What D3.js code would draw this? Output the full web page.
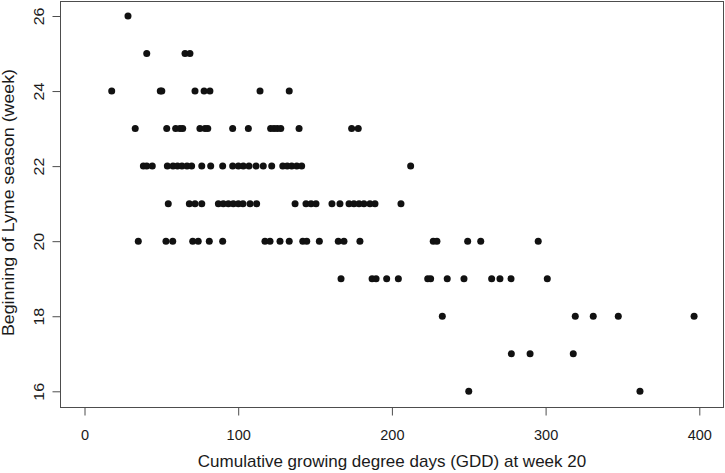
<!DOCTYPE html>
<html>
<head>
<meta charset="utf-8">
<script src="https://cdn.jsdelivr.net/npm/d3@7"></script>
<style>
  body { margin: 0; background: #fff; }
  svg { display: block; }
  text { font-family: "Liberation Sans", Arial, Helvetica, sans-serif; fill: #1a1a1a; }
</style>
</head>
<body>
<svg id="chart" width="725" height="473"></svg>
<script>
// ---- data ----
const xTicks = [0, 100, 200, 300, 400];
const yTicks = [16, 18, 20, 22, 24, 26];
const xLabel = "Cumulative growing degree days (GDD) at week 20";
const yLabel = "Beginning of Lyme season (week)";

const gddWeek26 = [28.3];
const gddWeek25 = [40.5, 65.4, 68.6];
const gddWeek24 = [17.7, 49.3, 50.3, 71.9, 77.8, 81.6, 114.2, 133.2];
const gddWeek23 = [33.0, 53.5, 59.3, 62.1, 63.9, 75.1, 78.4, 80.2, 96.4, 106.6, 121.1, 123.3, 125.4, 127.7, 139.6, 173.8, 178.1];
const gddWeek22 = [38.3, 40.5, 44.1, 53.9, 57.6, 60.5, 63.4, 66.7, 69.7, 76.3, 82.1, 89.9, 96.4, 100.1, 103.3, 107.0, 111.6, 116.3, 121.8, 129.0, 131.9, 134.8, 138.1, 141.3, 212.2];
const gddWeek21 = [54.5, 68.2, 71.9, 76.3, 87.1, 90.3, 93.6, 96.8, 100.1, 103.1, 107.7, 112.0, 137.0, 144.1, 147.4, 150.6, 161.0, 166.2, 172.1, 175.3, 178.6, 181.8, 185.7, 189.0, 205.9];
const gddWeek20 = [35.0, 53.0, 57.4, 70.4, 74.0, 81.2, 89.9, 117.4, 120.7, 127.2, 133.2, 142.0, 144.6, 152.8, 165.1, 168.8, 179.2, 226.9, 229.3, 249.3, 257.8, 295.2];
const gddWeek19 = [166.9, 187.1, 189.7, 196.6, 204.2, 223.3, 225.2, 236.0, 246.9, 264.9, 270.3, 277.5, 301.1];
const gddWeek18 = [232.8, 319.3, 331.0, 347.3, 396.6];
const gddWeek17 = [277.7, 289.9, 318.0];
const gddWeek16 = [250.0, 361.4];

const weeks = [26, 25, 24, 23, 22, 21, 20, 19, 18, 17, 16];
const gddByWeek = [gddWeek26, gddWeek25, gddWeek24, gddWeek23, gddWeek22, gddWeek21, gddWeek20, gddWeek19, gddWeek18, gddWeek17, gddWeek16];

const points = [];
weeks.forEach((w, i) => gddByWeek[i].forEach(g => points.push({ gdd: g, week: w })));

// ---- layout ----
const svg = d3.select("#chart");
const box = { left: 60.5, top: 1.5, right: 723.5, bottom: 407.5 };

const x = d3.scaleLinear().domain([0, 400]).range([84.5, 699.3]);
const y = d3.scaleLinear().domain([16, 26]).range([391.3, 16]);

const axisColor = "#4d4d4d";

// frame
svg.append("rect")
  .attr("x", box.left).attr("y", box.top)
  .attr("width", box.right - box.left).attr("height", box.bottom - box.top)
  .attr("fill", "none").attr("stroke", axisColor).attr("stroke-width", 1);

// x axis
const gx = svg.append("g")
  .attr("transform", `translate(0,${box.bottom})`)
  .call(d3.axisBottom(x).tickValues(xTicks).tickSize(8).tickSizeOuter(0).tickFormat(d3.format("d")));
gx.select(".domain").remove();
gx.selectAll(".tick line").attr("stroke", axisColor);
gx.selectAll(".tick text")
  .attr("y", 32).attr("dy", 0)
  .style("font-size", "14.5px").attr("fill", "#1a1a1a");

// y axis
const gy = svg.append("g")
  .attr("transform", `translate(${box.left},0)`)
  .call(d3.axisLeft(y).tickValues(yTicks).tickSize(8).tickSizeOuter(0).tickFormat(d3.format("d")));
gy.select(".domain").remove();
gy.selectAll(".tick line").attr("stroke", axisColor);
gy.selectAll(".tick text")
  .attr("x", null).attr("dy", null)
  .attr("text-anchor", "middle")
  .attr("transform", "translate(-17,0) rotate(-90) scale(1.1,1)")
  .style("font-size", "14.5px").attr("fill", "#1a1a1a");

// titles
svg.append("text")
  .attr("x", (box.left + box.right) / 2).attr("y", 467)
  .attr("text-anchor", "middle")
  .style("font-size", "17px")
  .text(xLabel);

svg.append("text")
  .attr("transform", `translate(14,${(box.top + box.bottom) / 2 - 2}) rotate(-90)`)
  .attr("text-anchor", "middle")
  .attr("textLength", 267)
  .attr("lengthAdjust", "spacingAndGlyphs")
  .style("font-size", "17px")
  .text(yLabel);

// points
svg.append("g").selectAll("circle")
  .data(points)
  .join("circle")
  .attr("cx", d => x(d.gdd))
  .attr("cy", d => y(d.week))
  .attr("r", 3.5)
  .attr("fill", "#111");
</script>
</body>
</html>
